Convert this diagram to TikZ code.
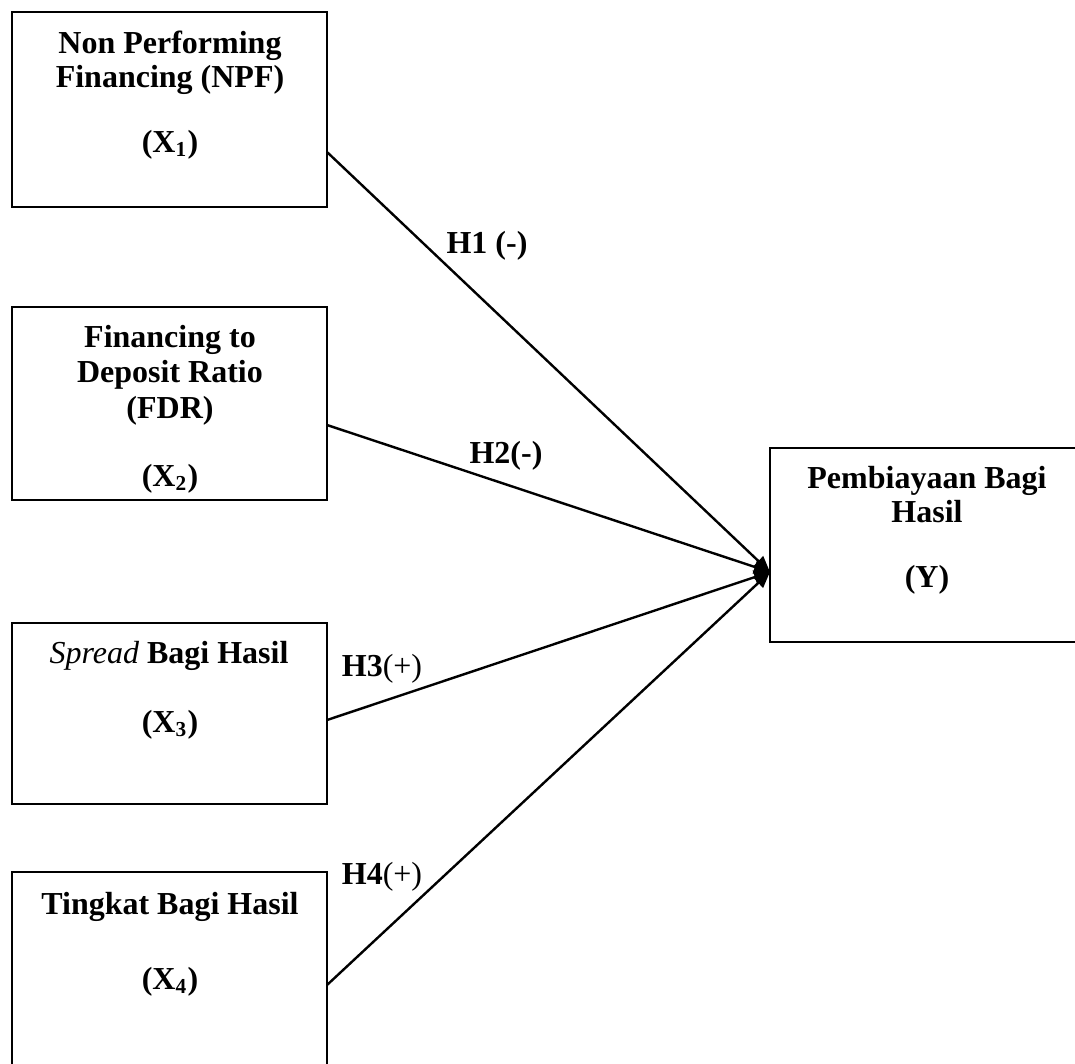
\documentclass[12pt,tikz,border=0pt]{standalone}
\usepackage{fontspec}
\setmainfont{Liberation Serif}
\usetikzlibrary{arrows.meta}
\usetikzlibrary{fit}
\tikzstyle{box} = [draw,line width=1pt,inner sep=0pt]
\tikzstyle{txt} = [anchor=base,inner sep=0pt,font=\fontsize{12}{14}\selectfont\bfseries]
\tikzstyle{arrow} = [line width=0.9pt,-{Triangle[length=6pt,width=5pt]}]

\begin{document}
\begin{tikzpicture}[x=0.375pt,y=-0.375pt]
\useasboundingbox (0,0) rectangle (1075,1063);
\clip (0,0) rectangle (1075,1063);

% boxes
\node[box,fit={(12,12) (327,207)}] (x1) {};
\node[box,fit={(12,307) (327,500)}] (x2) {};
\node[box,fit={(12,623) (327,804)}] (x3) {};
\node[box,fit={(12,872) (327,1080)}] (x4) {};
\node[box,fit={(770,448) (1090,642)}] (y) {};

% texts
\node[txt] (x1a) at (170,53) {Non Performing};
\node[txt] (x1b) at (170,87) {Financing (NPF)};
\node[txt] (x1c) at (170,152) {(X\textsubscript{1})};

\node[txt] (x2a) at (170,347) {Financing to};
\node[txt] (x2b) at (170,382) {Deposit Ratio};
\node[txt] (x2c) at (170,418) {(FDR)};
\node[txt] (x2d) at (170,486) {(X\textsubscript{2})};

\node[txt] (x3a) at (169,663) {{\mdseries\itshape Spread} Bagi Hasil};
\node[txt] (x3b) at (170,732) {(X\textsubscript{3})};

\node[txt] (x4a) at (170,914) {Tingkat Bagi Hasil};
\node[txt] (x4b) at (170,989) {(X\textsubscript{4})};

\node[txt] (ya) at (927,488) {Pembiayaan Bagi};
\node[txt] (yb) at (927,522) {Hasil};
\node[txt] (yc) at (927,587) {(Y)};

% hypotheses
\node[txt] (h1) at (487,253) {H1 (-)};
\node[txt] (h2) at (506,463) {H2(-)};
\node[txt] (h3) at (382,676) {H3{\mdseries(+)}};
\node[txt] (h4) at (382,884) {H4{\mdseries(+)}};

% connectors
\coordinate (s1) at (327,152);
\coordinate (s2) at (327,425);
\coordinate (s3) at (327,720);
\coordinate (s4) at (327,985);
\coordinate (tip) at (770,572);
\foreach \i in {1,...,4} {
\draw[arrow] (s\i) -- (tip);
}
\end{tikzpicture}
\end{document}
